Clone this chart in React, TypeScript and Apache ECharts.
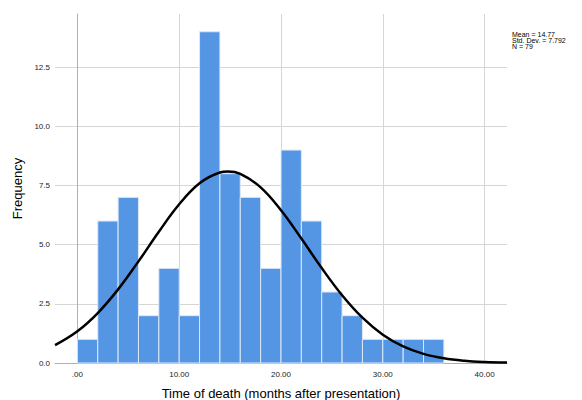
import React, { useEffect, useRef } from "react";
import * as echarts from "echarts";

const binStarts = [0, 2, 4, 6, 8, 10, 12, 14, 16, 18, 20, 22, 24, 26, 28, 30, 32, 34];
const binWidth = 2;
const frequencies = [1, 6, 7, 2, 4, 2, 14, 8, 7, 4, 9, 6, 3, 2, 1, 1, 1, 1];
const curveX = [-2.2, 0, 2, 4, 6, 8, 10, 12, 14, 14.77, 16, 18, 20, 22, 24, 26, 28, 30, 32, 34, 36, 38, 40, 42.2];
const curveY = [0.755, 1.342, 2.112, 3.112, 4.294, 5.546, 6.707, 7.594, 8.05, 8.089, 7.989, 7.423, 6.457, 5.26, 4.011, 2.864, 1.914, 1.197, 0.701, 0.385, 0.198, 0.095, 0.043, 0.017];
const xTickValues = [0, 10, 20, 30, 40];
const xTickLabels = [".00", "10.00", "20.00", "30.00", "40.00"];
const yTickValues = [0, 2.5, 5, 7.5, 10, 12.5];
const statsLines = ["Mean = 14.77", "Std. Dev. = 7.792", "N = 79"];
const xTitle = "Time of death (months after presentation)";
const yTitle = "Frequency";

export default function App() {
  const ref = useRef<HTMLDivElement>(null);
  useEffect(() => {
    document.body.style.margin = "0";
    const chart = echarts.init(ref.current!, null, { renderer: "svg" });
    const font = "'Liberation Sans', Arial, sans-serif";
    const barData = binStarts.map((s, i) => [s, s + binWidth, frequencies[i]]);
    chart.setOption({
      animation: false,
      backgroundColor: "#ffffff",
      grid: { left: 55, right: 75, top: 14, bottom: 37, containLabel: false, outerBoundsMode: "none" },
      xAxis: {
        type: "value",
        min: -2.2,
        max: 42.2,
        name: xTitle,
        nameLocation: "middle",
        nameGap: 24,
        nameTextStyle: { fontFamily: font, fontSize: 13, color: "#000" },
        axisLine: { show: true, lineStyle: { color: "#b0b0b0", width: 1 } },
        axisTick: { show: false, customValues: xTickValues },
        axisLabel: {
          customValues: xTickValues,
          fontFamily: font,
          fontSize: 8,
          color: "#222",
          margin: 7,
          formatter: (v: number) => {
            const i = xTickValues.indexOf(v);
            return i >= 0 ? xTickLabels[i] : "";
          },
        },
        splitLine: { show: true, lineStyle: { color: "#d6d6d6", width: 1 } },
      },
      yAxis: {
        type: "value",
        min: 0,
        max: 14.75,
        name: yTitle,
        nameLocation: "middle",
        nameGap: 31,
        nameTextStyle: { fontFamily: font, fontSize: 13, color: "#000" },
        axisLine: { show: true, lineStyle: { color: "#b0b0b0", width: 1 } },
        axisTick: { show: false, customValues: yTickValues },
        axisLabel: {
          customValues: yTickValues,
          fontFamily: font,
          fontSize: 8,
          color: "#222",
          margin: 5,
          formatter: (v: number) => v.toFixed(1),
        },
        splitLine: { show: true, lineStyle: { color: "#d6d6d6", width: 1 } },
      },
      graphic: [
        {
          type: "text",
          left: 512,
          top: 31,
          style: {
            text: statsLines.join("\n"),
            fontFamily: font,
            fontSize: 7,
            lineHeight: 6,
            fill: "#000",
          },
        },
      ],
      series: [
        {
          type: "custom",
          data: barData,
          encode: { x: [0, 1], y: 2 },
          renderItem: (params: any, api: any) => {
            const p0 = api.coord([api.value(0), 0]);
            const p1 = api.coord([api.value(1), api.value(2)]);
            return {
              type: "rect",
              shape: { x: p0[0], y: p1[1], width: p1[0] - p0[0], height: p0[1] - p1[1] },
              style: { fill: "#5596e4", stroke: "#dce8f8", lineWidth: 1 },
            };
          },
          z: 2,
        },
        {
          type: "line",
          data: curveX.map((x, i) => [x, curveY[i]]),
          smooth: 0.4,
          showSymbol: false,
          lineStyle: { color: "#000", width: 2.5 },
          z: 3,
        },
      ],
    });
    return () => chart.dispose();
  }, []);
  return <div ref={ref} style={{ position: "absolute", left: 0, top: 0, width: 582, height: 400 }} />;
}
